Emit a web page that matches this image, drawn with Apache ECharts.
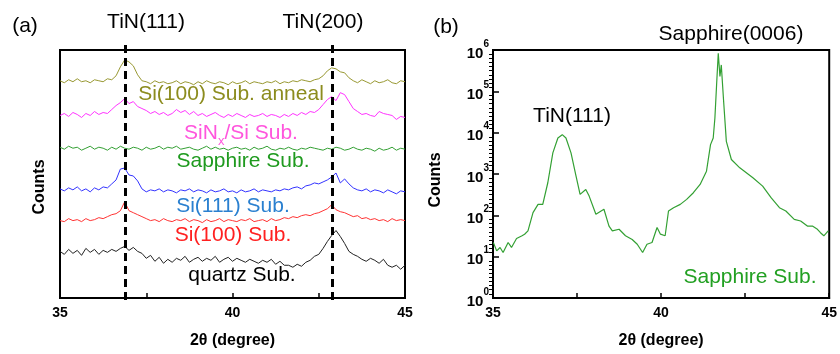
<!DOCTYPE html>
<html style="height: 100%">

<head>
    <meta charset="utf-8">
    <title>XRD of TiN films</title>
</head>

<body style="height: 100%; margin: 0; background: #fff">
    <div id="container" style="width: 840px; height: 354px"></div>
    <script src="https://cdn.jsdelivr.net/npm/echarts@6/dist/echarts.min.js"></script>
    <script type="text/javascript">
        var FONT = 'Liberation Sans, Arial, sans-serif';

        // panel (a): scan from 35 to 45 deg, step 0.125 deg (stacked, arbitrary units)
        var scanStart = 35, scanStep = 0.125;
        var anneal = [219, 217, 220, 218, 221, 218, 219, 217, 220, 219, 218, 221,
            220, 224, 233, 240, 238, 234, 225, 219,
            218, 216, 219, 217, 218, 216, 217, 219, 216, 218, 217, 215, 218, 216, 219, 217, 216, 218, 217, 215,
            218, 216, 217, 219, 216, 218, 217, 216, 218, 217, 219, 216, 218, 217, 219, 218, 220, 219, 218, 220,
            221, 224, 229, 232, 231, 228, 227, 222,
            219, 217, 220, 218, 216, 219, 217, 218, 220, 217, 216, 219, 218];
        var sinx = [184, 186, 183, 187, 185, 182, 186, 184, 188, 185, 187, 186,
            190, 194, 197, 201, 196, 198, 193, 191,
            189, 186, 188, 185, 187, 184, 186, 190, 187, 189, 185, 188, 184, 186, 183, 185, 187, 184, 182, 185,
            183, 186, 184, 182, 185, 183, 184, 186, 183, 185, 184, 182, 185, 183, 186, 184, 187, 185, 188, 187,
            190, 195, 200, 203, 199, 207, 205, 198,
            191, 188, 185, 186, 184, 183, 188, 186, 185, 184, 180, 183, 182];
        var sapphire = [152, 150, 153, 151, 152, 149, 151, 153, 150, 152, 151, 149, 152, 150, 153, 151, 150, 152, 151, 149,
            152, 150, 151, 153, 150, 152, 151, 153, 150, 151, 152, 150, 149, 151, 153, 150, 152, 150, 151, 149,
            151, 152, 150, 151, 149, 152, 150, 151, 153, 150, 149, 151, 150, 152, 150, 149, 151, 150, 152, 151,
            150, 149, 151, 150, 152, 151, 149, 150, 152, 150, 149, 151, 150, 148, 151, 149, 150, 152, 149, 151, 150];
        var si111 = [110, 108, 111, 109, 112, 108, 110, 107, 111, 109, 112, 111,
            115, 119, 130, 131, 124, 123, 118, 110,
            107, 109, 108, 110, 107, 109, 108, 106, 109, 108, 110, 107, 109, 108, 106, 109, 107, 108, 110, 107,
            108, 106, 109, 107, 108, 110, 107, 109, 108, 107, 109, 108, 110, 109, 111, 112, 110, 113, 114, 116,
            115, 117, 119, 122, 126, 116, 120, 115,
            111, 109, 108, 110, 107, 109, 108, 106, 109, 107, 105, 108, 107];
        var si100 = [78, 77, 80, 78, 79, 77, 80, 78, 79, 81, 80, 82,
            84, 85, 88, 97, 88, 86, 84, 82,
            80, 78, 79, 77, 80, 78, 77, 79, 78, 80, 77, 79, 78, 76, 79, 77, 78, 80, 77, 79,
            78, 77, 79, 78, 80, 77, 78, 79, 77, 80, 78, 79, 81, 80, 82, 81, 83, 84, 83, 85,
            86, 88, 90, 94, 89, 87, 86, 84,
            82, 83, 80, 81, 79, 80, 78, 79, 77, 80, 78, 79, 78];
        var quartz = [47, 44, 49, 45, 48, 43, 50, 46, 49, 44, 48, 46,
            49, 47, 50, 52, 48, 51, 47, 45,
            40, 43, 37, 41, 35, 39, 36, 40, 38, 42, 36, 39, 41, 37, 40, 38, 42, 36, 39, 41,
            37, 40, 38, 36, 39, 37, 35, 38, 36, 39, 34, 37, 33, 33, 31, 34, 32, 36, 38, 42,
            44, 50, 57, 63, 68, 62, 55, 47,
            44, 42, 39, 37, 40, 38, 35, 39, 33, 31, 33, 29, 33];
        var peakPositions = [36.9, 42.9];

        // panel (b): sapphire substrate, log counts
        var twoThetaB = [35.01, 35.11, 35.21, 35.30, 35.45, 35.55, 35.70, 35.85, 35.94, 36.04, 36.19, 36.34, 36.48,
            36.63, 36.78, 36.93, 37.06, 37.17, 37.32, 37.47, 37.59, 37.76, 37.86, 38.06, 38.30, 38.45, 38.55,
            38.75, 38.94, 39.14, 39.29, 39.45, 39.58, 39.73, 39.88, 39.98, 40.12, 40.22, 40.37, 40.57, 40.76,
            40.96, 41.16, 41.35, 41.47, 41.55, 41.60, 41.65, 41.70, 41.75, 41.79, 41.86, 41.94, 42.09, 42.34,
            42.73, 43.02, 43.27, 43.52, 43.71, 43.96, 44.15, 44.35, 44.50, 44.65, 44.74, 44.84, 44.97];
        var countsB = [22, 13.8, 16.7, 12.6, 22, 16.7, 27.5, 31.7, 34.8, 41.9, 116, 184, 184,
            614, 3240, 7450, 8950, 7450, 3240, 885, 321, 423, 292, 106, 140, 55, 42,
            46, 32, 26, 20, 12.6, 20, 22, 50.6, 35, 32, 127, 153, 184, 243,
            352, 558, 1170, 5140, 7450, 22600, 143000, 832000, 228000, 435000, 56800, 6170, 2240, 1410,
            810, 508, 267, 153, 127, 80, 73, 55, 55, 46, 38, 32, 42];

        function pairs(values) {
            return values.map(function (v, i) {
                return [scanStart + i * scanStep, v];
            });
        }

        function xAxisFor(grid) {
            return {
                gridIndex: grid, type: 'value', min: 35, max: 45, interval: 2.5,
                axisLine: { lineStyle: { color: '#000', width: 2 } },
                axisTick: { inside: true, length: 5, lineStyle: { color: '#000', width: 1.5 } },
                axisLabel: {
                    color: '#000', fontWeight: 'bold', fontSize: 14, fontFamily: FONT, margin: 8,
                    formatter: function (v) { return v % 5 === 0 ? String(v) : ''; }
                },
                splitLine: { show: false },
                name: '2θ (degree)', nameLocation: 'middle', nameGap: 35,
                nameTextStyle: { color: '#000', fontWeight: 'bold', fontSize: 16, fontFamily: FONT }
            };
        }

        function trace(name, values, color) {
            return {
                name: name, type: 'line', xAxisIndex: 0, yAxisIndex: 0,
                data: pairs(values), showSymbol: false, silent: true,
                lineStyle: { color: color, width: 1 }
            };
        }

        function label(text, x, y, color, size, weight) {
            return {
                type: 'text', x: x, y: y, silent: true,
                style: {
                    text: text, fill: color, fontSize: size || 21, fontFamily: FONT,
                    fontWeight: weight || 'normal', align: 'center', verticalAlign: 'middle'
                }
            };
        }

        var myChart = echarts.init(document.getElementById('container'));

        var option = {
            animation: false,
            backgroundColor: '#fff',
            grid: [
                { left: 60, top: 50, width: 345, height: 250, show: true, borderColor: '#000', borderWidth: 2 },
                { left: 493, top: 50, width: 339, height: 249, show: true, borderColor: '#000', borderWidth: 2 },
                { left: 60, top: 40, width: 345, height: 260 }
            ],
            xAxis: [
                xAxisFor(0),
                xAxisFor(1),
                { gridIndex: 2, type: 'value', min: 35, max: 45, show: false }
            ],
            yAxis: [
                {
                    gridIndex: 0, type: 'value', min: 0, max: 250,
                    axisLine: { show: true, lineStyle: { color: '#000', width: 2 } },
                    axisTick: { show: false }, axisLabel: { show: false }, splitLine: { show: false }
                },
                {
                    gridIndex: 1, type: 'log', logBase: 10, min: 1, max: 1000000, interval: 1,
                    axisLine: { show: true, lineStyle: { color: '#000', width: 2 } },
                    axisTick: { inside: true, length: 6, lineStyle: { color: '#000', width: 1.5 } },
                    splitLine: { show: false },
                    axisLabel: {
                        margin: 4,
                        formatter: function (v) {
                            return '{b|10}{s|' + Math.round(Math.log10(v)) + '}';
                        },
                        rich: {
                            b: { fontSize: 15, fontWeight: 'bold', color: '#000', fontFamily: FONT, lineHeight: 22, verticalAlign: 'bottom' },
                            s: { fontSize: 10, fontWeight: 'bold', color: '#000', fontFamily: FONT, lineHeight: 22, verticalAlign: 'top' }
                        }
                    }
                },
                {
                    // decade exponent scale, only used to draw the evenly spaced minor ticks
                    gridIndex: 1, type: 'value', min: 0, max: 6, interval: 1, position: 'left',
                    axisLine: { show: false }, axisLabel: { show: false }, splitLine: { show: false },
                    axisTick: { show: false },
                    minorTick: { show: true, splitNumber: 10, length: 4, lineStyle: { color: '#000', width: 1 } }
                },
                { gridIndex: 2, type: 'value', min: 0, max: 1, show: false }
            ],
            graphic: [
                label('(a)', 25, 26, '#000', 21),
                label('(b)', 446, 27, '#000', 21),
                label('TiN(111)', 146, 22, '#000', 21),
                label('TiN(200)', 323, 22, '#000', 21),
                label('Si(100) Sub. anneal', 231, 94, '#8c8c1e'),
                {
                    type: 'text', x: 241, y: 133, silent: true,
                    style: {
                        text: '{a|SiN}{s|x}{a|/Si Sub.}', align: 'center', verticalAlign: 'middle',
                        rich: {
                            a: { fontSize: 21, fontFamily: FONT, fill: '#ff55dd', lineHeight: 30, verticalAlign: 'middle' },
                            s: { fontSize: 13, fontFamily: FONT, fill: '#ff55dd', lineHeight: 30, verticalAlign: 'bottom' }
                        }
                    }
                },
                label('Sapphire Sub.', 243, 161, '#1f9a1f'),
                label('Si(111) Sub.', 233, 206, '#2a80d0'),
                label('Si(100) Sub.', 233, 235, '#ff2020'),
                label('quartz Sub.', 242, 275, '#000'),
                label('Sapphire(0006)', 731, 34, '#000'),
                label('TiN(111)', 572, 116, '#000'),
                label('Sapphire Sub.', 750, 277, '#22a022'),
                {
                    type: 'text', x: 40, y: 187, rotation: Math.PI / 2, silent: true,
                    style: { text: 'Counts', fill: '#000', fontSize: 16, fontWeight: 'bold', fontFamily: FONT, align: 'center', verticalAlign: 'middle' }
                },
                {
                    type: 'text', x: 436, y: 180, rotation: Math.PI / 2, silent: true,
                    style: { text: 'Counts', fill: '#000', fontSize: 16, fontWeight: 'bold', fontFamily: FONT, align: 'center', verticalAlign: 'middle' }
                }
            ],
            series: [
                trace('Si(100) Sub. anneal', anneal, '#999933'),
                trace('SiNx/Si Sub.', sinx, '#ff33ff'),
                trace('Sapphire Sub.', sapphire, '#33a033'),
                trace('Si(111) Sub.', si111, '#3333ff'),
                trace('Si(100) Sub.', si100, '#ff3333'),
                trace('quartz Sub.', quartz, '#222222'),
                {
                    name: 'Sapphire Sub. (log)', type: 'line', xAxisIndex: 1, yAxisIndex: 1,
                    data: twoThetaB.map(function (x, i) { return [x, countsB[i]]; }),
                    showSymbol: false, silent: true,
                    lineStyle: { color: '#33a033', width: 1.2 }
                },
                {
                    name: 'peaks', type: 'line', xAxisIndex: 2, yAxisIndex: 3, data: [],
                    markLine: {
                        symbol: 'none', silent: true, label: { show: false },
                        lineStyle: { color: '#000', width: 3, type: [8, 5] },
                        data: peakPositions.map(function (p) { return { xAxis: p }; })
                    }
                }
            ]
        };
        myChart.setOption(option);
    </script>
</body>

</html>
